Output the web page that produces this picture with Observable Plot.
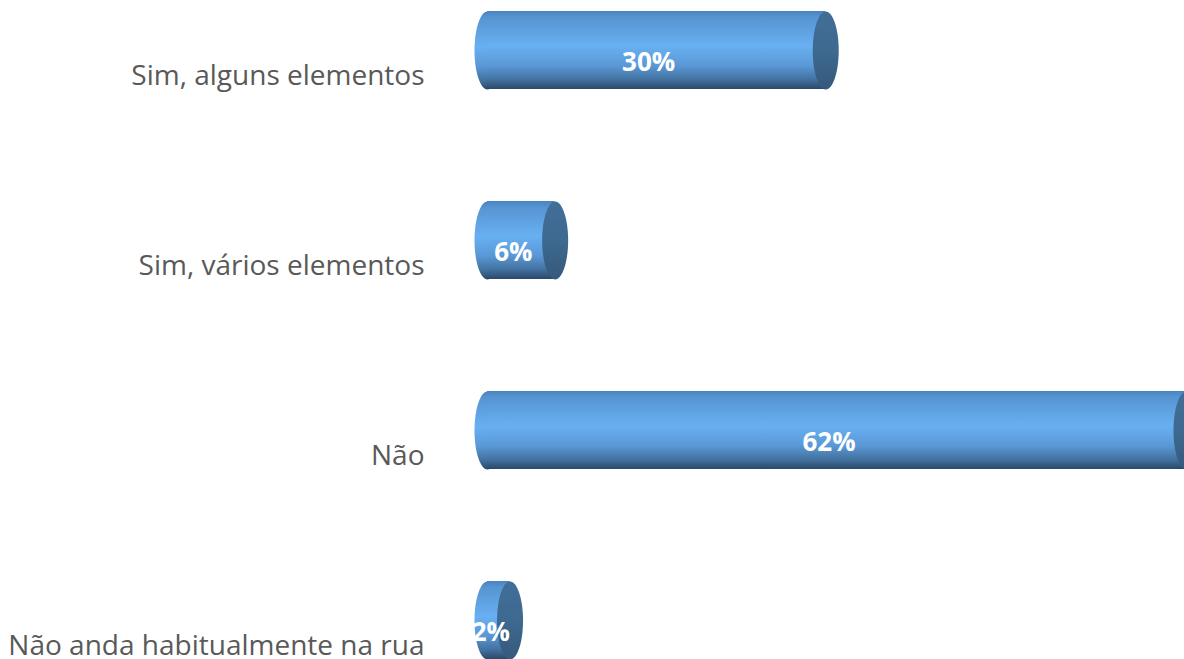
<!DOCTYPE html>
<html>
<head>
<meta charset="utf-8">
<script src="https://cdn.jsdelivr.net/npm/d3@7"></script>
<script src="https://cdn.jsdelivr.net/npm/@observablehq/plot@0.6"></script>
<style>
  html, body { margin: 0; padding: 0; background: #ffffff; overflow: hidden; }
  #chart svg { display: block; }
</style>
</head>
<body>
<div id="chart"></div>
<script>
const categories = ["Sim, alguns elementos", "Sim, vários elementos", "Não", "Não anda habitualmente na rua"];
const values = [30, 6, 62, 2];
const valueLabels = ["30%", "6%", "62%", "2%"];

const data = categories.map((c, i) => ({category: c, value: values[i], label: valueLabels[i]}));

// Elliptical symbol for cylinder ends
function ellipseSymbol(a, b) {
  const k = 0.5523;
  return {
    draw(ctx) {
      ctx.moveTo(a, 0);
      ctx.bezierCurveTo(a, b * k, a * k, b, 0, b);
      ctx.bezierCurveTo(-a * k, b, -a, b * k, -a, 0);
      ctx.bezierCurveTo(-a, -b * k, -a * k, -b, 0, -b);
      ctx.bezierCurveTo(a * k, -b, a, -b * k, a, 0);
      ctx.closePath();
    }
  };
}

function defsMark() {
  const defs = d3.create("svg:defs");
  const g = defs.append("linearGradient").attr("id", "cylBody").attr("x1", 0).attr("y1", 0).attr("x2", 0).attr("y2", 1);
  [[0, "#4a84c0"], [0.08, "#5794d2"], [0.45, "#68b0f2"], [0.7, "#5a98d6"], [0.88, "#42719f"], [1, "#2a4868"]]
    .forEach(([o, c]) => g.append("stop").attr("offset", o).attr("stop-color", c));
  const g2 = defs.append("linearGradient").attr("id", "cylCap").attr("x1", 0).attr("y1", 0).attr("x2", 0).attr("y2", 1);
  [[0, "#416e98"], [0.5, "#3e6990"], [1, "#35597c"]]
    .forEach(([o, c]) => g2.append("stop").attr("offset", o).attr("stop-color", c));
  return defs.node();
}

const chart = Plot.plot({
  width: 1184,
  height: 659,
  marginLeft: 487,
  marginRight: 0,
  marginTop: 0,
  marginBottom: 0,
  style: {fontFamily: "'Open Sans', sans-serif", background: "#ffffff"},
  x: {domain: [0, 62], range: [487, 1186], axis: null},
  y: {domain: categories, range: [0, 669], paddingInner: 0.59, paddingOuter: 0.05, axis: null},
  marks: [
    defsMark,
    Plot.dot(data, {x: () => 0, y: "category", symbol: ellipseSymbol(13, 39), fill: "url(#cylBody)", r: 5}),
    Plot.barX(data, {x1: () => 0, x2: "value", y: "category", fill: "url(#cylBody)"}),
    Plot.dot(data, {x: "value", y: "category", symbol: ellipseSymbol(13, 39), fill: "url(#cylCap)", r: 5}),
    Plot.text(data, {x: d => d.value / 2, y: "category", text: "label", fill: "#ffffff", fontWeight: "bold", fontSize: 26, dx: -8, dy: 12}),
    Plot.axisY({label: null, tickSize: 0, tickPadding: 63, fontSize: 28, dy: 26, color: "#595959", textAnchor: "end"})
  ]
});
document.getElementById("chart").appendChild(chart);
</script>
</body>
</html>
